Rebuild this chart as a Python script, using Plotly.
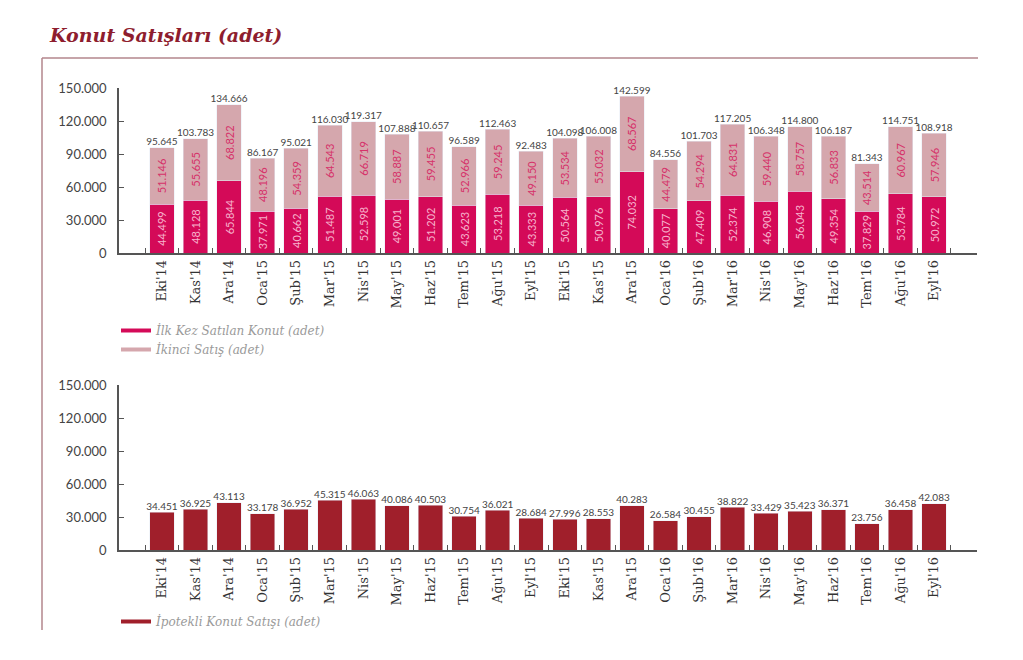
import plotly.graph_objects as go

categories = ["Eki'14", "Kas'14", "Ara'14", "Oca'15", "Şub'15", "Mar'15", "Nis'15", "May'15",
              "Haz'15", "Tem'15", "Ağu'15", "Eyl'15", "Eki'15", "Kas'15", "Ara'15", "Oca'16",
              "Şub'16", "Mar'16", "Nis'16", "May'16", "Haz'16", "Tem'16", "Ağu'16", "Eyl'16"]

ilk_kez = [44499, 48128, 65844, 37971, 40662, 51487, 52598, 49001, 51202, 43623, 53218, 43333,
           50564, 50976, 74032, 40077, 47409, 52374, 46908, 56043, 49354, 37829, 53784, 50972]
ikinci = [51146, 55655, 68822, 48196, 54359, 64543, 66719, 58887, 59455, 52966, 59245, 49150,
          53534, 55032, 68567, 44479, 54294, 64831, 59440, 58757, 56833, 43514, 60967, 57946]
toplam = [95645, 103783, 134666, 86167, 95021, 116030, 119317, 107888, 110657, 96589, 112463, 92483,
          104098, 106008, 142599, 84556, 101703, 117205, 106348, 114800, 106187, 81343, 114751, 108918]
ipotekli = [34451, 36925, 43113, 33178, 36952, 45315, 46063, 40086, 40503, 30754, 36021, 28684,
            27996, 28553, 40283, 26584, 30455, 38822, 33429, 35423, 36371, 23756, 36458, 42083]

y_ticks = [0, 30000, 60000, 90000, 120000, 150000]

def fmt(v):
    return f"{v:,}".replace(",", ".")

C1 = "#d40a58"
C2 = "#d5a7ad"
C3 = "#a01f2b"
FRAME = "#b3868c"
AX = "#555555"

W, H = 1023, 660
def px_x(p):
    return p / W
def px_y(p):
    return 1 - p / H

fig = go.Figure()

fig.add_trace(go.Bar(
    x=categories, y=ilk_kez, marker_color=C1, name="İlk Kez Satılan Konut (adet)",
    text=[fmt(v) for v in ilk_kez], textposition="inside", insidetextanchor="middle",
    textangle=-90, textfont=dict(color="#f7b2cc", size=11, family="Lato"),
    xaxis="x", yaxis="y", showlegend=False))
fig.add_trace(go.Bar(
    x=categories, y=ikinci, marker_color=C2, name="İkinci Satış (adet)",
    text=[fmt(v) for v in ikinci], textposition="inside", insidetextanchor="middle",
    textangle=-90, textfont=dict(color="#d6326a", size=11, family="Lato"),
    xaxis="x", yaxis="y", showlegend=False))
fig.add_trace(go.Scatter(
    x=categories, y=toplam, mode="text", text=[fmt(v) for v in toplam],
    textposition="top center", textfont=dict(color="#444444", size=10, family="Lato"),
    xaxis="x", yaxis="y", showlegend=False, cliponaxis=False))

fig.add_trace(go.Bar(
    x=categories, y=ipotekli, marker_color=C3, name="İpotekli Konut Satışı (adet)",
    xaxis="x2", yaxis="y2", showlegend=False))
fig.add_trace(go.Scatter(
    x=categories, y=ipotekli, mode="text", text=[fmt(v) for v in ipotekli],
    textposition="top center", textfont=dict(color="#444444", size=10, family="Lato"),
    xaxis="x2", yaxis="y2", showlegend=False, cliponaxis=False))

# legend entries (line samples)
for nm, col, lg in [("İlk Kez Satılan Konut (adet)", C1, "legend"),
                    ("İkinci Satış (adet)", C2, "legend"),
                    ("İpotekli Konut Satışı (adet)", C3, "legend2")]:
    fig.add_trace(go.Scatter(x=[None], y=[None], mode="lines", name=nm,
                             line=dict(color=col, width=4), legend=lg,
                             xaxis="x", yaxis="y", showlegend=True))

xcommon = dict(type="category", showline=True, linecolor=AX, linewidth=1.5,
               ticks="inside", tickson="boundaries", ticklen=5, tickcolor=AX,
               tickangle=-90, tickfont=dict(family="DejaVu Serif", size=13, color="#333333"),
               showgrid=False, zeroline=False, fixedrange=True, automargin=False)
ycommon = dict(range=[0, 150000], tickvals=y_ticks, tickformat=",d", showline=True,
               linecolor=AX, linewidth=1.5, ticks="inside", ticklen=5, tickcolor=AX,
               tickfont=dict(family="Lato", size=13, color="#444444"), showgrid=False,
               zeroline=False, fixedrange=True, ticklabelstandoff=8, automargin=False)

fig.update_layout(
    width=W, height=H,
    margin=dict(l=0, r=0, t=0, b=0),
    paper_bgcolor="white", plot_bgcolor="white",
    separators=",.",
    barmode="stack", bargap=0.27,
    xaxis=dict(**xcommon, domain=[px_x(119), px_x(977)], anchor="y"),
    yaxis=dict(**ycommon, domain=[px_y(253), px_y(88)], anchor="x"),
    xaxis2=dict(**xcommon, domain=[px_x(119), px_x(977)], anchor="y2"),
    yaxis2=dict(**ycommon, domain=[px_y(550), px_y(385)], anchor="x2"),
    legend=dict(x=px_x(116), y=px_y(316), xanchor="left", yanchor="top",
                font=dict(family="DejaVu Serif", size=12, color="#9a9a9a", style="italic"),
                itemwidth=30, tracegroupgap=0, traceorder="normal",
                bgcolor="rgba(0,0,0,0)"),
    legend2=dict(x=px_x(116), y=px_y(607), xanchor="left", yanchor="top",
                 font=dict(family="DejaVu Serif", size=12, color="#9a9a9a", style="italic"),
                 itemwidth=30, traceorder="normal", bgcolor="rgba(0,0,0,0)"),
    showlegend=True,
    shapes=[
        dict(type="line", xref="paper", yref="paper", x0=px_x(42), x1=px_x(42),
             y0=px_y(58), y1=px_y(630), line=dict(color=FRAME, width=1.5)),
        dict(type="line", xref="paper", yref="paper", x0=px_x(42), x1=px_x(978),
             y0=px_y(58), y1=px_y(58), line=dict(color=FRAME, width=1.5)),
    ],
    annotations=[
        dict(text="Konut Satışları (adet)", xref="paper", yref="paper",
             x=px_x(47), y=px_y(35), xanchor="left", yanchor="middle", showarrow=False,
             font=dict(family="DejaVu Serif", size=19, color="#8e1d2e",
                       style="italic", weight="bold")),
    ],
)

fig.write_html("out.html", config={"displayModeBar": False},
               post_script="document.body.style.margin='0';document.body.style.overflow='hidden';")
